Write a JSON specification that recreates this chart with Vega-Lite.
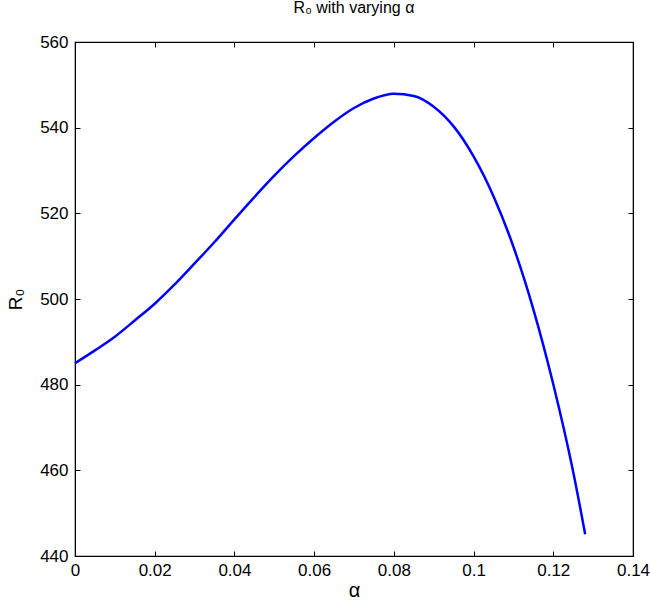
{
  "$schema": "https://vega.github.io/schema/vega-lite/v6.json",
  "width": 558,
  "height": 514,
  "autosize": {"type": "none"},
  "padding": {"left": 75, "top": 42, "right": 17, "bottom": 49},
  "background": "white",
  "title": {"text": "R₀ with varying α", "font": "Liberation Sans", "fontSize": 16, "fontWeight": "normal", "color": "black", "offset": 17},
  "data": {"values": [
    {"alpha": 0, "R0": 485},
    {"alpha": 0.005, "R0": 488},
    {"alpha": 0.01, "R0": 491.2},
    {"alpha": 0.015, "R0": 495},
    {"alpha": 0.02, "R0": 498.9},
    {"alpha": 0.025, "R0": 503.4},
    {"alpha": 0.03, "R0": 508.3},
    {"alpha": 0.035, "R0": 513.3},
    {"alpha": 0.04, "R0": 518.6},
    {"alpha": 0.045, "R0": 523.8},
    {"alpha": 0.05, "R0": 528.8},
    {"alpha": 0.055, "R0": 533.4},
    {"alpha": 0.06, "R0": 537.6},
    {"alpha": 0.065, "R0": 541.4},
    {"alpha": 0.07, "R0": 544.6},
    {"alpha": 0.075, "R0": 546.8},
    {"alpha": 0.08, "R0": 547.9},
    {"alpha": 0.085, "R0": 547.4},
    {"alpha": 0.09, "R0": 544.9},
    {"alpha": 0.095, "R0": 540.3},
    {"alpha": 0.1, "R0": 533.3},
    {"alpha": 0.105, "R0": 524},
    {"alpha": 0.11, "R0": 512.2},
    {"alpha": 0.115, "R0": 497.6},
    {"alpha": 0.12, "R0": 480.1},
    {"alpha": 0.125, "R0": 459.6},
    {"alpha": 0.128, "R0": 445.1}
  ]},
  "config": {
    "view": {"stroke": "black", "strokeWidth": 1.2},
    "axis": {"labelFont": "Liberation Sans", "labelFontSize": 17, "labelColor": "black", "titleFont": "Liberation Sans", "titleColor": "black", "titleFontWeight": "normal", "grid": false, "domainColor": "black", "tickColor": "black", "tickSize": -5, "domain": true}
  },
  "layer": [
    {
      "mark": {"type": "line", "color": "#0000FF", "strokeWidth": 2.5, "interpolate": "monotone"},
      "encoding": {
        "x": {"field": "alpha", "type": "quantitative", "scale": {"domain": [0, 0.14], "nice": false},
              "axis": {"values": [0, 0.02, 0.04, 0.06, 0.08, 0.1, 0.12, 0.14], "labelExpr": "datum.value", "labelPadding": 11, "labelFlush": false, "title": "α", "titleFontSize": 20, "titlePadding": 2}},
        "y": {"field": "R0", "type": "quantitative", "scale": {"domain": [440, 560], "nice": false, "zero": false},
              "axis": {"values": [440, 460, 480, 500, 520, 540, 560], "labelPadding": 12, "labelFlush": false, "title": "R₀", "titleFontSize": 19, "titlePadding": 14}}
      }
    },
    {
      "mark": {"type": "line", "opacity": 0},
      "encoding": {
        "x": {"field": "alpha", "type": "quantitative", "scale": {"domain": [0, 0.14], "nice": false},
              "axis": {"orient": "top", "values": [0, 0.02, 0.04, 0.06, 0.08, 0.1, 0.12, 0.14], "labels": false, "title": null}},
        "y": {"field": "R0", "type": "quantitative", "scale": {"domain": [440, 560], "nice": false, "zero": false},
              "axis": {"orient": "right", "values": [440, 460, 480, 500, 520, 540, 560], "labels": false, "title": null}}
      }
    }
  ],
  "resolve": {"axis": {"x": "independent", "y": "independent"}}
}
